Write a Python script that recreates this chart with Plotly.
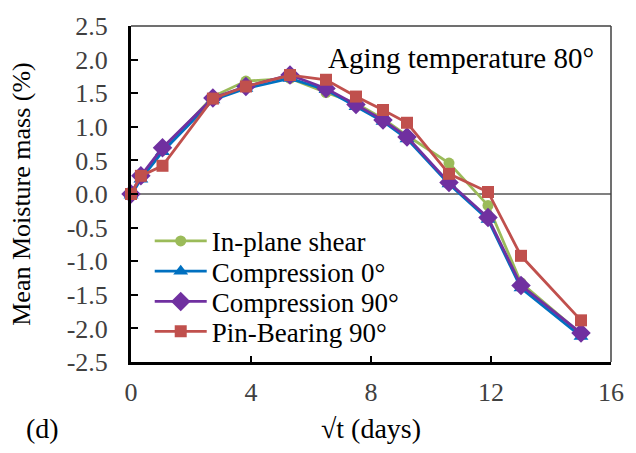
import plotly.graph_objects as go

sqrt_t = [0, 0.33, 1.05, 2.73, 3.83, 5.3, 6.5, 7.5, 8.4, 9.2, 10.6, 11.9, 13.0, 15.0]

in_plane_shear = [0, 0.25, 0.65, 1.45, 1.68, 1.72, 1.51, 1.35, 1.12, 0.87, 0.46, -0.17, -1.32, -2.08]
compression_0 = [-0.02, 0.22, 0.63, 1.40, 1.57, 1.72, 1.55, 1.30, 1.08, 0.82, 0.15, -0.38, -1.40, -2.12]
compression_90 = [0, 0.27, 0.69, 1.43, 1.60, 1.77, 1.57, 1.33, 1.10, 0.85, 0.17, -0.35, -1.36, -2.07]
pin_bearing_90 = [0, 0.27, 0.42, 1.42, 1.60, 1.77, 1.70, 1.45, 1.25, 1.06, 0.30, 0.03, -0.92, -1.88]

series_names = ["In-plane shear", "Compression 0°", "Compression 90°", "Pin-Bearing 90°"]
y_tick_vals = [2.5, 2.0, 1.5, 1.0, 0.5, 0.0, -0.5, -1.0, -1.5, -2.0, -2.5]
y_tick_text = ["2.5", "2.0", "1.5", "1.0", "0.5", "0.0", "-0.5", "-1.0", "-1.5", "-2.0", "-2.5"]
x_tick_vals = [0, 4, 8, 12, 16]

colors = ["#9BBB59", "#0070C0", "#7030A0", "#C0504D"]
symbols = ["circle", "triangle-up", "diamond", "square"]
sizes = [11, 13, 15, 12]
data = [in_plane_shear, compression_0, compression_90, pin_bearing_90]
legend_ids = ["legend", "legend2", "legend3", "legend4"]
legend_rows_y = [0.359, 0.269, 0.179, 0.090]

FONT = "Liberation Serif"
TICK_SIZE = 26
LEG_SIZE = 27

fig = go.Figure()
for name, ys, c, s, sz, lg in zip(series_names, data, colors, symbols, sizes, legend_ids):
    fig.add_trace(go.Scatter(
        x=sqrt_t, y=ys, name=name, mode="lines+markers",
        line=dict(color=c, width=2.8),
        marker=dict(color=c, symbol=s, size=sz),
        cliponaxis=False, legend=lg,
    ))

legend_common = dict(
    x=0.039, xanchor="left", yanchor="middle",
    bgcolor="rgba(0,0,0,0)", font=dict(size=LEG_SIZE, family=FONT, color="black"),
    itemwidth=52, borderwidth=0,
)
layout_legends = {}
for lg, ly in zip(legend_ids, legend_rows_y):
    layout_legends[lg] = dict(y=ly, **legend_common)

fig.update_layout(
    width=636, height=453,
    margin=dict(l=131, r=24, t=17, b=91),
    paper_bgcolor="white", plot_bgcolor="white",
    font=dict(family=FONT, size=TICK_SIZE, color="black"),
    showlegend=True,
    xaxis=dict(
        range=[0, 16], tickvals=x_tick_vals, ticks="inside", ticklen=6, tickwidth=2,
        tickcolor="black", showline=True, linecolor="black", linewidth=3,
        showgrid=False, zeroline=False, ticklabelstandoff=5,
        tickfont=dict(family=FONT, size=TICK_SIZE, color="#404040"),
        title=dict(text="√t (days)", font=dict(family=FONT, size=28, color="black"), standoff=13),
    ),
    yaxis=dict(
        range=[-2.5, 2.5], tickvals=y_tick_vals, ticktext=y_tick_text,
        ticks="inside", ticklen=7, tickwidth=2, tickcolor="black",
        showline=True, linecolor="black", linewidth=3,
        showgrid=False, zeroline=True, zerolinecolor="#808080", zerolinewidth=2,
        ticklabelstandoff=15,
        tickfont=dict(family=FONT, size=TICK_SIZE, color="#404040"),
        title=dict(text="Mean Moisture mass (%)", font=dict(family=FONT, size=26, color="black"), standoff=29),
    ),
    shapes=[
        dict(type="line", xref="paper", yref="paper", x0=0, x1=1, y0=1, y1=1,
             line=dict(color="#404040", width=1.5)),
        dict(type="line", xref="paper", yref="paper", x0=1, x1=1, y0=0, y1=1,
             line=dict(color="#404040", width=1.5)),
    ],
    annotations=[
        dict(text="Aging temperature 80°", xref="paper", yref="paper", x=0.969, y=0.904,
             xanchor="right", yanchor="middle", showarrow=False,
             font=dict(family=FONT, size=29, color="black")),
        dict(text="(d)", xref="paper", yref="paper", x=-0.185, y=-0.197,
             xanchor="center", yanchor="middle", showarrow=False,
             font=dict(family=FONT, size=28, color="black")),
    ],
    **layout_legends,
)

fig.write_html("out.html")
